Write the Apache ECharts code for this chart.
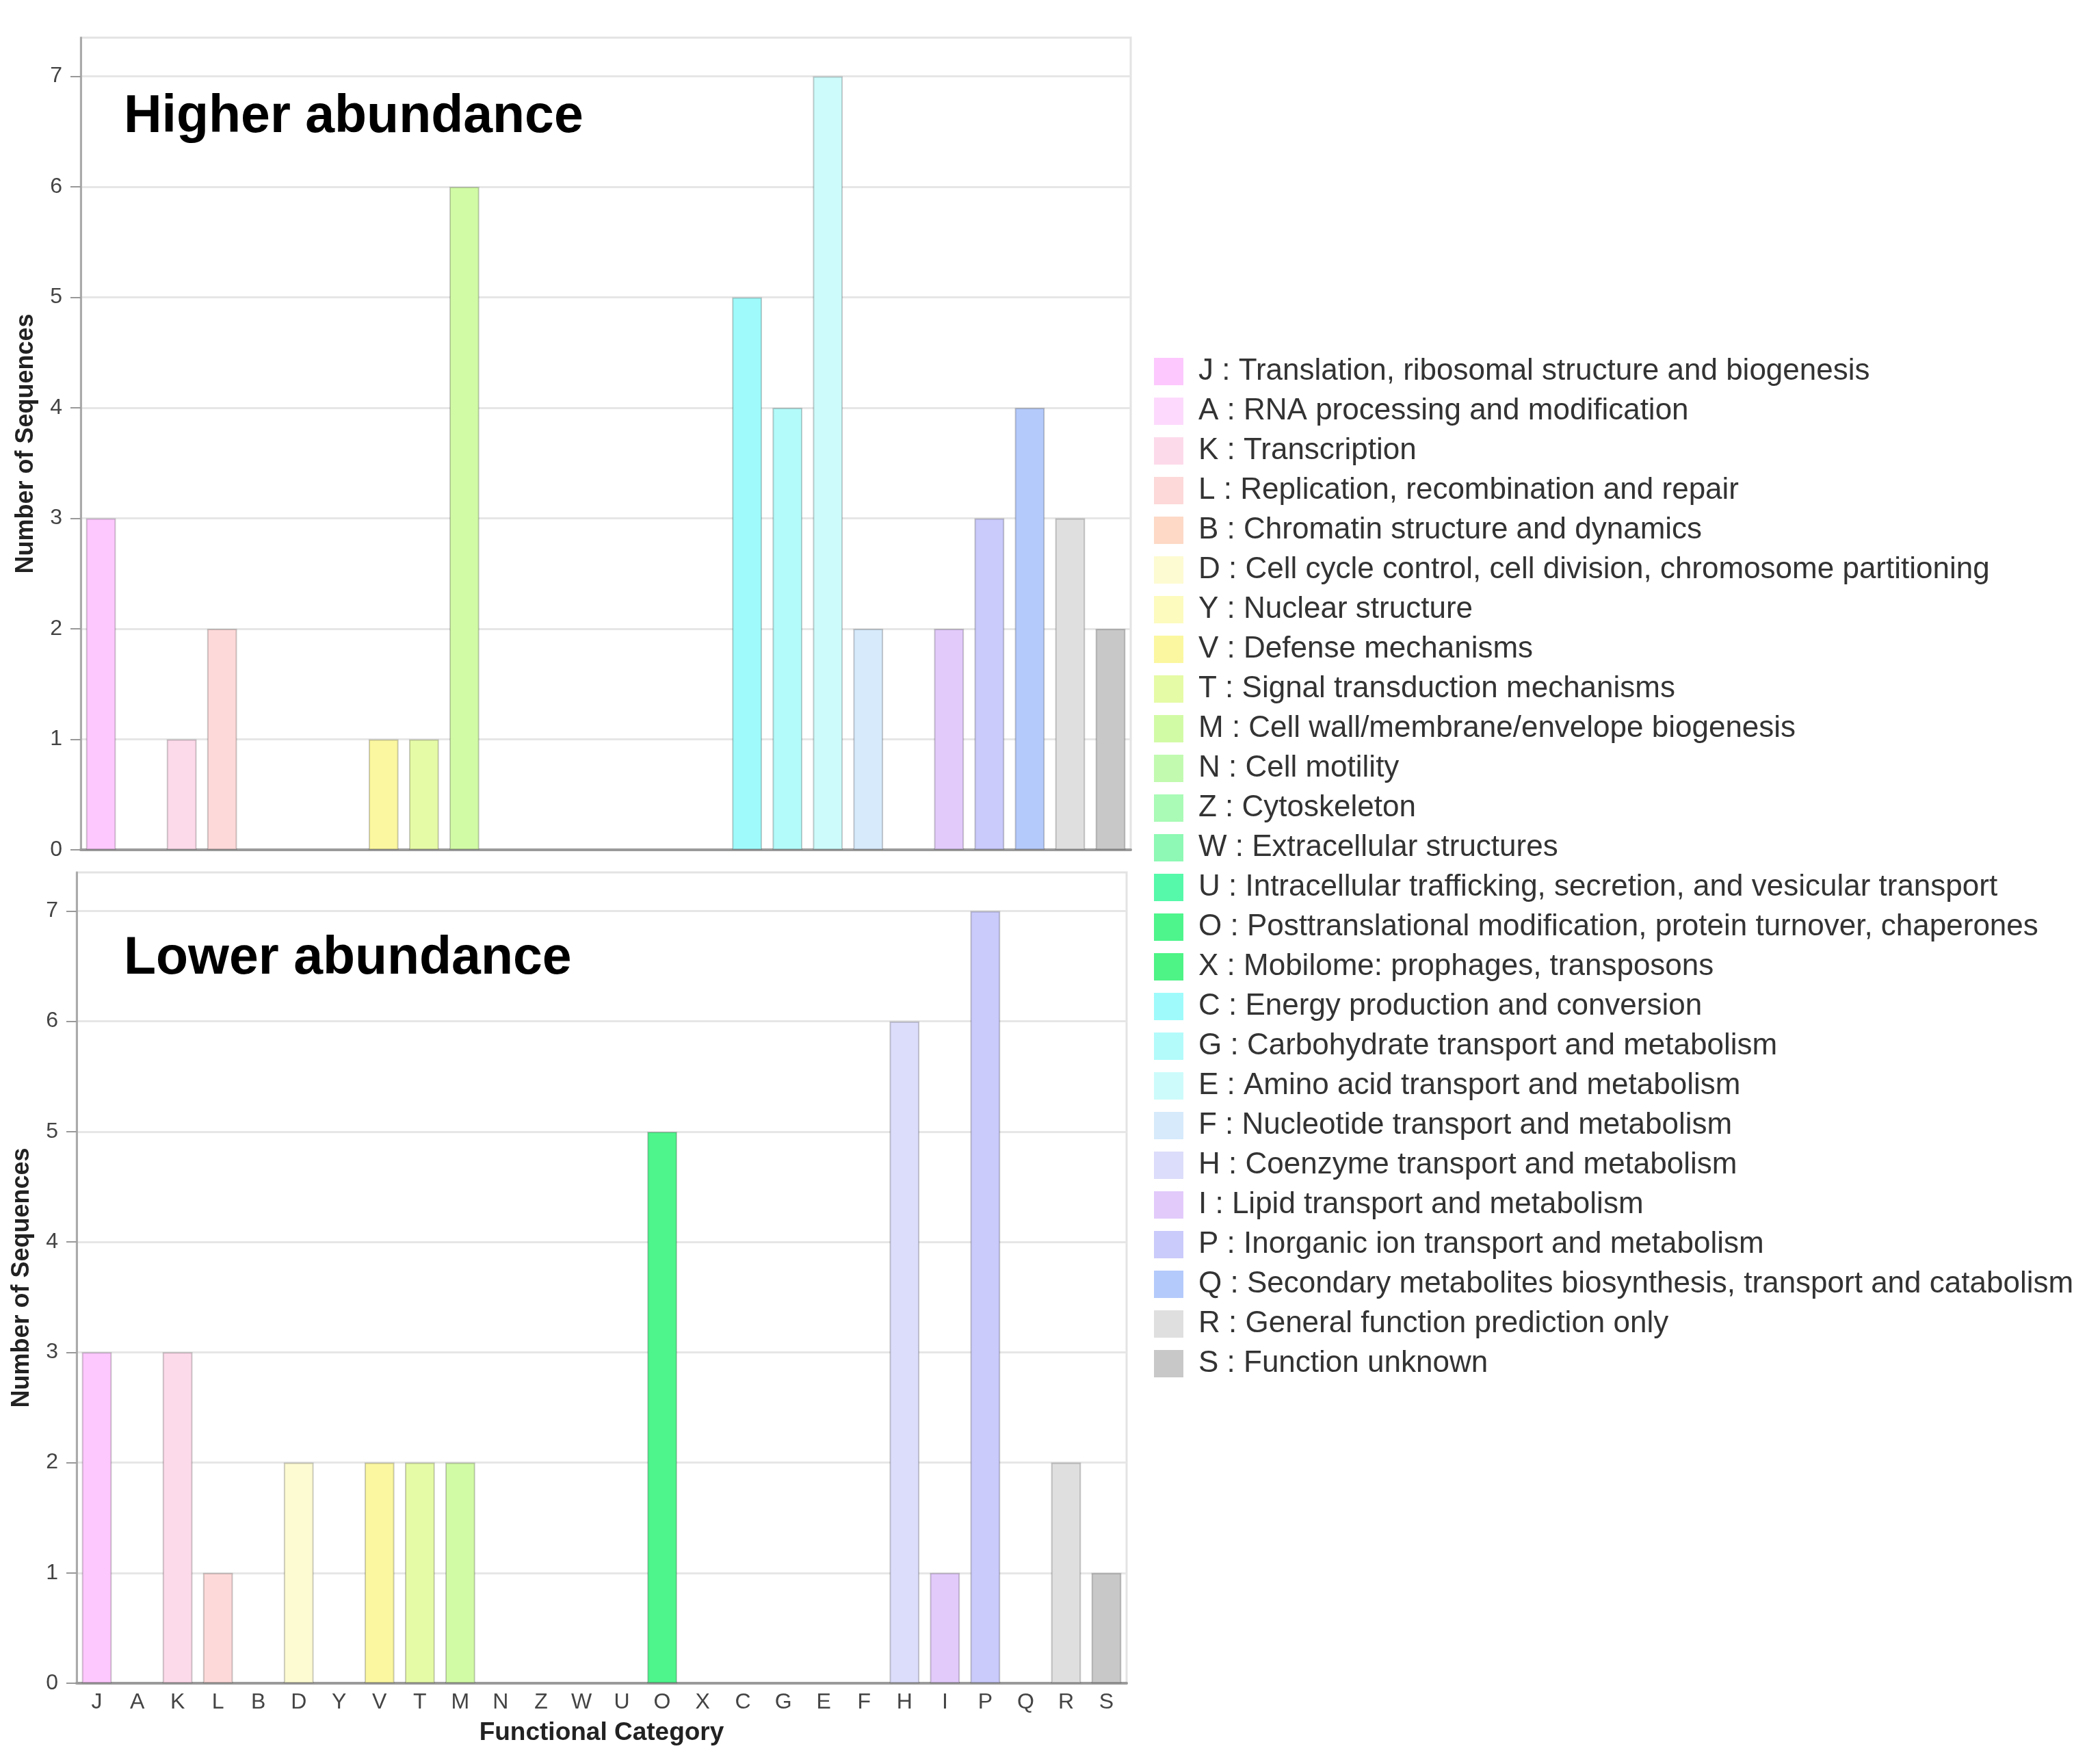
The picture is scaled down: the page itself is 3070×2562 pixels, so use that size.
<!DOCTYPE html>
<html>
<head>
    <meta charset="UTF-8">
    <title>COG functional categories</title>
    <script src="https://cdn.jsdelivr.net/npm/echarts/dist/echarts.min.js"></script>
    <style>
        body { margin: 0; background: #fff; }
    </style>
</head>
<body>
<div id="container" style="width: 3070px; height: 2562px;"></div>
<script>

    // 功能分类代码 (x 轴顺序)
    var codes = ['J', 'A', 'K', 'L', 'B', 'D', 'Y', 'V', 'T', 'M', 'N', 'Z', 'W',
                 'U', 'O', 'X', 'C', 'G', 'E', 'F', 'H', 'I', 'P', 'Q', 'R', 'S'];

    // 图例说明文字
    var descriptions = [
        'Translation, ribosomal structure and biogenesis',
        'RNA processing and modification',
        'Transcription',
        'Replication, recombination and repair',
        'Chromatin structure and dynamics',
        'Cell cycle control, cell division, chromosome partitioning',
        'Nuclear structure',
        'Defense mechanisms',
        'Signal transduction mechanisms',
        'Cell wall/membrane/envelope biogenesis',
        'Cell motility',
        'Cytoskeleton',
        'Extracellular structures',
        'Intracellular trafficking, secretion, and vesicular transport',
        'Posttranslational modification, protein turnover, chaperones',
        'Mobilome: prophages, transposons',
        'Energy production and conversion',
        'Carbohydrate transport and metabolism',
        'Amino acid transport and metabolism',
        'Nucleotide transport and metabolism',
        'Coenzyme transport and metabolism',
        'Lipid transport and metabolism',
        'Inorganic ion transport and metabolism',
        'Secondary metabolites biosynthesis, transport and catabolism',
        'General function prediction only',
        'Function unknown'
    ];

    // 每个分类的颜色
    var colors = ['#fdc8fd', '#fddafd', '#fddaea', '#fdd9d9', '#fdd9c6', '#fdfbd1', '#fdfbbe',
                  '#fbf7a0', '#e6fba6', '#d2fba6', '#c2fbb0', '#a9fbb6', '#8ef9b4', '#55f9a9',
                  '#4ef58c', '#4ef486', '#9ffbfb', '#b3fbfb', '#cdfbfb', '#d6eafb', '#dcdcfb',
                  '#e2cafb', '#cacafb', '#b4cafb', '#dfdfdf', '#c8c8c8'];

    // 上调 (Higher abundance)
    var higher = [3, 0, 1, 2, 0, 0, 0, 1, 1, 6, 0, 0, 0, 0, 0, 0, 5, 4, 7, 2, 0, 2, 3, 4, 3, 2];
    // 下调 (Lower abundance)
    var lower = [3, 0, 3, 1, 0, 2, 0, 2, 2, 2, 0, 0, 0, 0, 5, 0, 0, 0, 0, 0, 6, 1, 7, 0, 2, 1];

    var yTicks = [0, 1, 2, 3, 4, 5, 6, 7];

    var font = "'Liberation Sans', Arial, sans-serif";

    // 每个分类一个系列，同一个 stack 里，这样图例能显示全部分类
    function buildSeries(values, idx) {
        var list = [];
        for (var i = 0; i < codes.length; i++) {
            var d = [];
            for (var j = 0; j < codes.length; j++) {
                d.push(j === i && values[i] > 0 ? values[i] : '-');
            }
            list.push({
                name: codes[i],
                type: 'bar',
                stack: 'panel' + idx,
                xAxisIndex: idx,
                yAxisIndex: idx,
                barWidth: '74%',
                data: d,
                itemStyle: {
                    color: colors[i],
                    borderColor: 'rgba(0,0,0,0.2)',
                    borderWidth: 2
                }
            });
        }
        return list;
    }

    function yAxisFor(idx) {
        return {
            gridIndex: idx,
            type: 'value',
            min: yTicks[0],
            max: 7.35,
            interval: 1,
            name: 'Number of Sequences',
            nameLocation: 'middle',
            nameGap: 62,
            nameTextStyle: { fontSize: 36, fontWeight: 'bold', color: '#222', fontFamily: font },
            axisLine: { show: true, lineStyle: { color: '#aaa', width: 3 } },
            axisTick: { show: true, length: 15, customValues: yTicks, lineStyle: { color: '#999', width: 2 } },
            axisLabel: {
                fontSize: 32, color: '#444', margin: 27, fontFamily: font,
                formatter: function (v) { return yTicks.indexOf(v) >= 0 ? String(v) : ''; }
            },
            splitLine: { lineStyle: { color: '#e6e6e6', width: 3 } }
        };
    }

    function xAxisFor(idx, showLabel) {
        return {
            gridIndex: idx,
            type: 'category',
            data: codes,
            name: showLabel ? 'Functional Category' : '',
            nameLocation: 'middle',
            nameGap: 54,
            nameTextStyle: { fontSize: 37, fontWeight: 'bold', color: '#222', fontFamily: font },
            axisLine: { lineStyle: { color: '#9a9a9a', width: 4 } },
            axisTick: { show: false },
            axisLabel: { show: showLabel, interval: 0, fontSize: 32, color: '#444', margin: 12, fontFamily: font },
            splitLine: { show: false }
        };
    }

    var mychart = echarts.init(document.getElementById('container'));

    var option = {
        animation: false,
        backgroundColor: '#fff',
        textStyle: { fontFamily: font },
        title: [
            { text: 'Higher abundance', left: 181, top: 133, padding: 0,
              textStyle: { fontSize: 77, fontWeight: 'bold', color: '#000', fontFamily: font } },
            { text: 'Lower abundance', left: 181, top: 1363, padding: 0,
              textStyle: { fontSize: 77, fontWeight: 'bold', color: '#000', fontFamily: font } }
        ],
        legend: {
            data: codes,
            orient: 'vertical',
            left: 1687,
            top: 521,
            padding: 0,
            icon: 'rect',
            itemWidth: 43,
            itemHeight: 40,
            itemGap: 14,
            itemStyle: { borderWidth: 0 },
            textStyle: { fontSize: 44, color: '#333', fontFamily: font, padding: [0, 0, 0, 17] },
            formatter: function (name) {
                return name + ' : ' + descriptions[codes.indexOf(name)];
            }
        },
        grid: [
            { left: 118, top: 55, right: 1417, height: 1187, show: true, borderColor: '#e3e3e3', borderWidth: 3 },
            { left: 112, top: 1275, right: 1423, height: 1185, show: true, borderColor: '#e3e3e3', borderWidth: 3 }
        ],
        xAxis: [xAxisFor(0, false), xAxisFor(1, true)],
        yAxis: [yAxisFor(0), yAxisFor(1)],
        series: buildSeries(higher, 0).concat(buildSeries(lower, 1))
    };

    mychart.setOption(option);

</script>
</body>
</html>
